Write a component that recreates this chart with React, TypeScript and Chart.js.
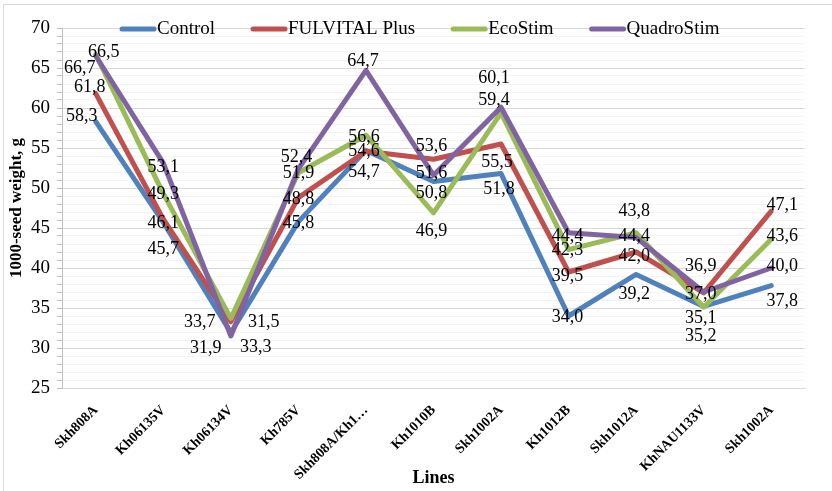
import React, { useEffect, useRef } from "react";
import { Chart, registerables } from "chart.js";

Chart.register(...registerables);

const categories = [
  "Skh808A",
  "Kh06135V",
  "Kh06134V",
  "Kh785V",
  "Skh808A/Kh1…",
  "Kh1010B",
  "Skh1002A",
  "Kh1012B",
  "Skh1012A",
  "KhNAU1133V",
  "Skh1002A",
];

const seriesNames = ["Control", "FULVITAL Plus", "EcoStim", "QuadroStim"];

const controlValues = [58.3, 45.7, 31.9, 45.8, 54.7, 50.8, 51.8, 34.0, 39.2, 35.2, 37.8];
const fulvitalValues = [61.8, 46.1, 33.3, 48.8, 54.6, 53.6, 55.5, 39.5, 42.0, 36.9, 47.1];
const ecostimValues = [66.7, 49.3, 33.7, 51.9, 56.6, 46.9, 59.4, 42.3, 44.4, 35.1, 43.6];
const quadrostimValues = [66.5, 53.1, 31.5, 52.4, 64.7, 51.6, 60.1, 44.4, 43.8, 37.0, 40.0];

const yMin = 25;
const yMax = 70;

const colors = ["#4F81BD", "#C0504D", "#9BBB59", "#8064A2"];

// label offsets (style only) [dx, dy] per point
const labelOffsets: number[][][] = [
  [[-14, -5], [0, 27], [-25, 15], [0, 2], [-2, 22], [-2, 12], [-2, 16], [-1, 1], [-2, 20], [-3, 30], [11, 16]],
  [[-6, -6], [0, 4], [25, 26], [0, 2], [-2, 0], [-2, -13], [-4, 18], [-1, 4], [-2, 4], [-3, -27], [11, -6]],
  [[-16, 14], [0, 1], [-31, 4], [0, 0], [-2, 2], [-2, 18], [-7, -13], [-1, 1], [-2, 3], [-3, 11], [11, -3]],
  [[8, -4], [0, 4], [33, -14], [-2, -12], [-3, -9], [-2, -2], [-7, -29], [-1, 3], [-2, -26], [-3, 2], [11, -2]],
];

const FONT = "'Liberation Serif', 'Times New Roman', serif";

const bgBorderPlugin = {
  id: "bgBorder",
  beforeDraw(chart: any) {
    const ctx = chart.ctx;
    ctx.save();
    ctx.fillStyle = "#ffffff";
    ctx.fillRect(0, 0, chart.width, chart.height);
    ctx.strokeStyle = "#d9d9d9";
    ctx.lineWidth = 1;
    ctx.strokeRect(3.5, 4.5, chart.width, chart.height);
    ctx.restore();
  },
};

const dataLabelPlugin = {
  id: "dataLabels",
  afterDatasetsDraw(chart: any) {
    const ctx = chart.ctx;
    ctx.save();
    ctx.font = `18px ${FONT}`;
    ctx.fillStyle = "#000";
    ctx.textAlign = "center";
    ctx.textBaseline = "middle";
    chart.data.datasets.forEach((ds: any, di: number) => {
      const meta = chart.getDatasetMeta(di);
      meta.data.forEach((pt: any, i: number) => {
        const v = ds.data[i];
        const off = labelOffsets[di][i];
        ctx.fillText(v.toFixed(1).replace(".", ","), pt.x + off[0], pt.y + off[1]);
      });
    });
    ctx.restore();
  },
};

const legendPlugin = {
  id: "overlayLegend",
  afterDraw(chart: any) {
    const ctx = chart.ctx;
    ctx.save();
    ctx.font = `19px ${FONT}`;
    ctx.textBaseline = "middle";
    ctx.textAlign = "left";
    let x = 120;
    const y = chart.chartArea.top + 1;
    chart.data.datasets.forEach((ds: any) => {
      ctx.strokeStyle = ds.borderColor;
      ctx.lineWidth = 5;
      ctx.lineCap = "round";
      ctx.beginPath();
      ctx.moveTo(x + 2, y);
      ctx.lineTo(x + 34, y);
      ctx.stroke();
      ctx.fillStyle = "#000";
      ctx.fillText(ds.label, x + 37, y);
      x += 37 + ctx.measureText(ds.label).width + 36;
    });
    ctx.restore();
  },
};

export default function App() {
  const ref = useRef<HTMLCanvasElement | null>(null);

  useEffect(() => {
    document.body.style.margin = "0";
    const canvas = ref.current;
    if (!canvas) return;
    const allValues = [controlValues, fulvitalValues, ecostimValues, quadrostimValues];
    const chart = new Chart(canvas, {
      type: "line",
      data: {
        labels: categories,
        datasets: seriesNames.map((name, i) => ({
          label: name,
          data: allValues[i],
          borderColor: colors[i],
          backgroundColor: colors[i],
          borderWidth: 5,
          pointRadius: 0,
          tension: 0,
          borderCapStyle: "round",
          borderJoinStyle: "round",
          order: 3 - i,
        })),
      },
      options: {
        responsive: false,
        animation: false,
        layout: { padding: { top: 28, right: 27, left: 0, bottom: 0 } },
        plugins: {
          legend: { display: false },
          tooltip: { enabled: false },
        },
        scales: {
          x: {
            type: "category",
            offset: true,
            grid: { display: false },
            border: { display: true, color: "#d9d9d9" },
            ticks: {
              color: "#000",
              font: { family: FONT, size: 14, weight: "bold" },
              minRotation: 45,
              maxRotation: 45,
              autoSkip: false,
              padding: 6,
            },
            title: {
              display: true,
              text: "Lines",
              color: "#000",
              font: { family: FONT, size: 18, weight: "bold" },
              padding: { top: 0, bottom: 2 },
            },
            afterFit(scale: any) {
              scale.height = 103;
            },
          },
          y: {
            min: yMin,
            max: yMax,
            grid: {
              color: (c: any) => (c.tick && c.tick.value % 5 === 0 ? "#d9d9d9" : "#f3f3f3"),
              tickColor: "#bfbfbf",
              tickLength: 5,
            },
            border: { display: true, color: "#bfbfbf" },
            ticks: {
              stepSize: 1,
              autoSkip: false,
              color: "#000",
              font: { family: FONT, size: 19 },
              padding: 7,
              callback: (v: any) => (Number(v) % 5 === 0 ? String(v) : ""),
            },
            title: {
              display: true,
              text: "1000-seed weight, g",
              color: "#000",
              font: { family: FONT, size: 17, weight: "bold" },
              padding: { top: 6, bottom: 0 },
            },
            afterFit(scale: any) {
              scale.width = 62;
            },
          },
        },
      },
      plugins: [bgBorderPlugin, dataLabelPlugin, legendPlugin],
    } as any);
    return () => chart.destroy();
  }, []);

  return (
    <canvas
      ref={ref}
      width={832}
      height={491}
      style={{ display: "block", width: 832, height: 491 }}
    />
  );
}
